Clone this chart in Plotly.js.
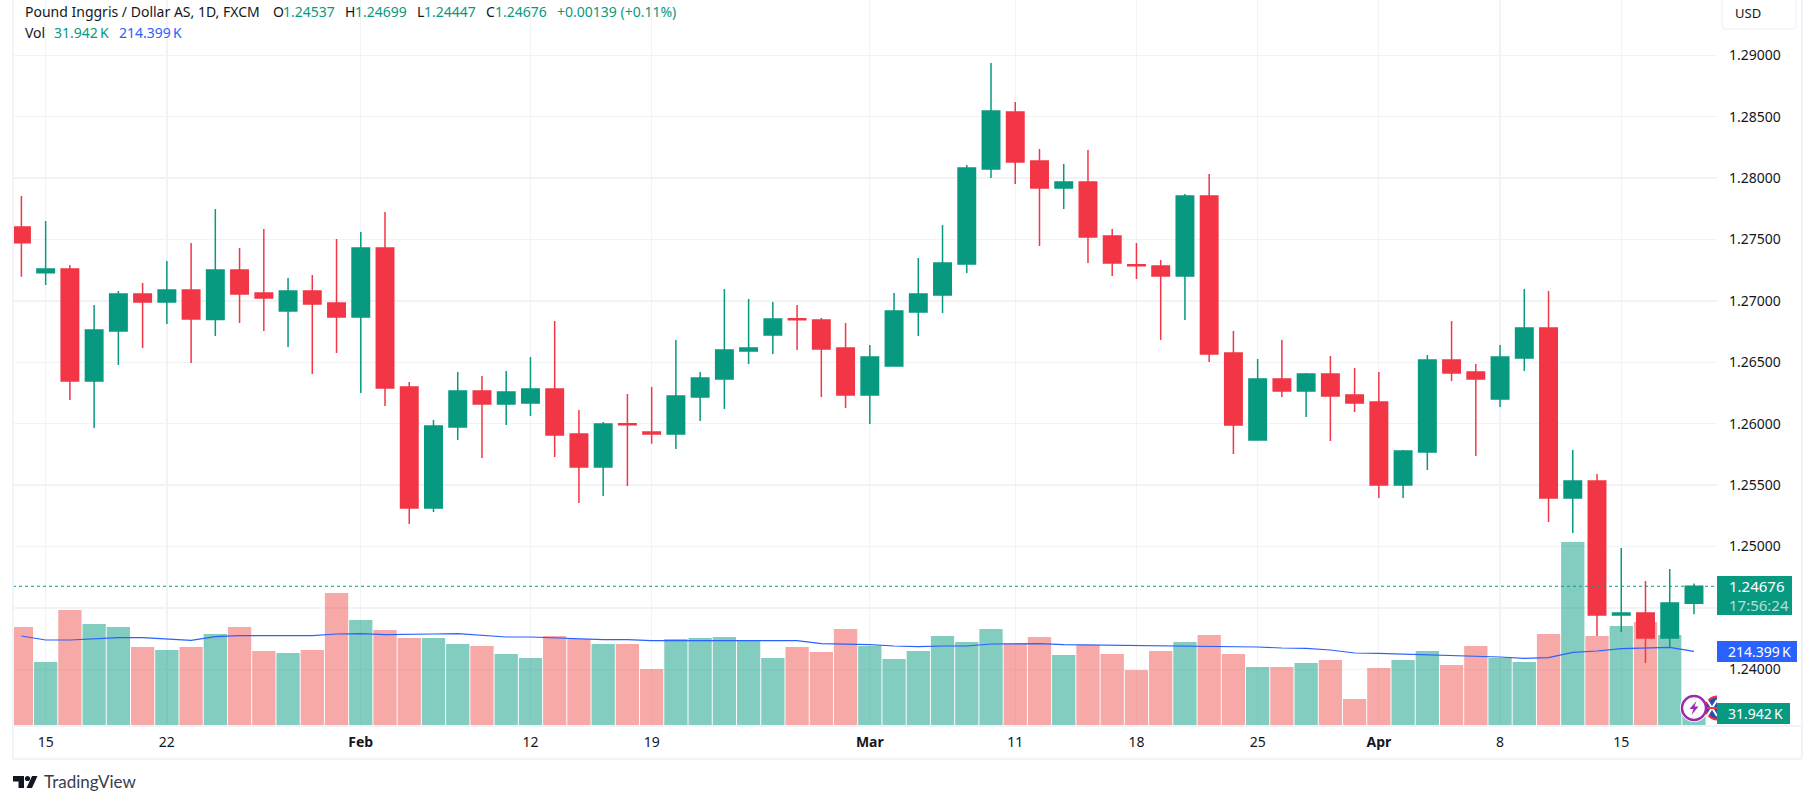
<!DOCTYPE html>
<html>
<head>
<meta charset="utf-8">
<script src="https://cdn.plot.ly/plotly-3.0.1.min.js"></script>
<style>
  html, body { margin: 0; padding: 0; background: #fff; }
</style>
</head>
<body>
<div id="chart"></div>
<script>
const dates = [
  '2024-01-12',
  '2024-01-15','2024-01-16','2024-01-17','2024-01-18','2024-01-19',
  '2024-01-22','2024-01-23','2024-01-24','2024-01-25','2024-01-26',
  '2024-01-29','2024-01-30','2024-01-31','2024-02-01','2024-02-02',
  '2024-02-05','2024-02-06','2024-02-07','2024-02-08','2024-02-09',
  '2024-02-12','2024-02-13','2024-02-14','2024-02-15','2024-02-16',
  '2024-02-19','2024-02-20','2024-02-21','2024-02-22','2024-02-23',
  '2024-02-26','2024-02-27','2024-02-28','2024-02-29','2024-03-01',
  '2024-03-04','2024-03-05','2024-03-06','2024-03-07','2024-03-08',
  '2024-03-11','2024-03-12','2024-03-13','2024-03-14','2024-03-15',
  '2024-03-18','2024-03-19','2024-03-20','2024-03-21','2024-03-22',
  '2024-03-25','2024-03-26','2024-03-27','2024-03-28','2024-03-29',
  '2024-04-01','2024-04-02','2024-04-03','2024-04-04','2024-04-05',
  '2024-04-08','2024-04-09','2024-04-10','2024-04-11','2024-04-12',
  '2024-04-15','2024-04-16','2024-04-17','2024-04-18'
];
const opens = [
  1.27602,1.27229,1.27260,1.26347,1.26755,1.27056,1.26991,1.27088,1.26848,1.27251,
  1.27064,1.26917,1.27080,1.26983,1.26869,1.27430,1.26299,1.25313,1.25973,1.26266,
  1.26160,1.26168,1.26282,1.25916,1.25647,1.25999,1.25932,1.25916,1.26217,1.26364,
  1.26592,1.26722,1.26854,1.26844,1.26616,1.26233,1.26470,1.26909,1.27048,1.27300,
  1.28074,1.28538,1.28139,1.27919,1.27968,1.27528,1.27294,1.27284,1.27202,1.27854,
  1.26575,1.25867,1.26364,1.26266,1.26404,1.26233,1.26176,1.25501,1.25769,1.26518,
  1.26421,1.26201,1.26535,1.26779,1.25395,1.25533,1.24442,1.24458,1.24255,1.24537
];
const highs = [
  1.27854,1.27650,1.27292,1.26966,1.27080,1.27145,1.27325,1.27471,1.27748,1.27430,
  1.27585,1.27186,1.27211,1.27504,1.27561,1.27724,1.26339,1.26030,1.26421,1.26388,
  1.26429,1.26543,1.26836,1.26111,1.26014,1.26242,1.26299,1.26681,1.26421,1.27097,
  1.27015,1.26991,1.26966,1.26860,1.26820,1.26641,1.27064,1.27349,1.27618,1.28106,
  1.28937,1.28619,1.28237,1.28114,1.28229,1.27585,1.27471,1.27333,1.27870,1.28033,
  1.26755,1.26527,1.26681,1.26413,1.26551,1.26453,1.26421,1.25786,1.26559,1.26836,
  1.26486,1.26641,1.27097,1.27080,1.25786,1.25590,1.24988,1.24719,1.24817,1.24699
];
const lows = [
  1.27197,1.27129,1.26193,1.25965,1.26478,1.26616,1.26812,1.26494,1.26714,1.26820,
  1.26755,1.26624,1.26404,1.26575,1.26250,1.26144,1.25183,1.25281,1.25867,1.25720,
  1.25989,1.26062,1.25729,1.25354,1.25411,1.25492,1.25837,1.25794,1.26022,1.26119,
  1.26486,1.26567,1.26600,1.26217,1.26128,1.25997,1.26470,1.26714,1.26901,1.27227,
  1.28001,1.27952,1.27447,1.27748,1.27308,1.27202,1.27178,1.26681,1.26844,1.26502,
  1.25753,1.25867,1.26217,1.26054,1.25859,1.26095,1.25395,1.25395,1.25623,1.26347,
  1.25737,1.26136,1.26429,1.25199,1.25110,1.24271,1.24303,1.24051,1.24173,1.24447
];
const closes = [
  1.27474,1.27260,1.26347,1.26763,1.27056,1.26991,1.27088,1.26852,1.27251,1.27056,
  1.27023,1.27080,1.26974,1.26869,1.27430,1.26290,1.25313,1.25981,1.26266,1.26160,
  1.26258,1.26282,1.25908,1.25647,1.25997,1.25991,1.25916,1.26225,1.26372,1.26600,
  1.26616,1.26852,1.26846,1.26608,1.26233,1.26543,1.26917,1.27056,1.27308,1.28082,
  1.28546,1.28131,1.27919,1.27968,1.27520,1.27308,1.27286,1.27202,1.27854,1.26567,
  1.25989,1.26364,1.26266,1.26404,1.26225,1.26168,1.25501,1.25777,1.26518,1.26413,
  1.26364,1.26543,1.26779,1.25395,1.25533,1.24442,1.24458,1.24255,1.24540,1.24676
];
// volume and its moving average, in thousands
const volumes = [
  284.1,183.7,332.9,292.7,284.1,226.7,218.1,226.7,264.0,284.1,
  215.3,209.5,218.1,381.7,304.2,275.5,252.6,252.6,235.3,229.6,
  206.6,195.2,258.3,249.7,235.3,235.3,163.6,249.7,252.6,255.4,
  246.8,195.2,226.7,212.4,278.4,229.6,192.3,215.3,258.3,241.1,
  278.4,238.2,255.4,203.8,232.5,206.6,160.7,215.3,241.1,261.2,
  206.6,169.3,169.3,180.8,189.4,77.5,166.5,189.4,215.3,175.1,
  229.6,195.2,183.7,264.0,528.1,258.3,287.0,298.5,261.2,31.942
];
const volumeMa = [
  258.3,246.8,246.8,250.6,253.4,253.4,250.6,246.0,256.3,259.2,
  259.2,259.2,259.2,264.0,264.9,262.0,262.0,264.0,264.9,259.2,
  255.4,255.4,252.6,249.7,247.7,247.7,244.8,244.8,244.8,244.8,
  244.8,244.8,244.8,236.2,235.3,233.3,229.6,227.6,229.6,229.6,
  235.3,236.2,236.2,233.3,232.5,232.5,231.6,229.6,229.6,229.6,
  227.6,226.7,223.9,223.0,218.1,209.5,208.6,206.6,204.6,201.8,
  200.0,198.0,194.3,196.0,211.5,215.3,221.9,224.7,225.9,214.399
];
const tickDates = ['2024-01-15','2024-01-22','2024-02-01','2024-02-12','2024-02-19','2024-03-01','2024-03-11','2024-03-18','2024-03-25','2024-04-01','2024-04-08','2024-04-15'];
const tickLabels = ['15','22','<b>Feb</b>','12','19','<b>Mar</b>','11','18','25','<b>Apr</b>','8','15'];
const priceTicks = [1.24,1.245,1.25,1.255,1.26,1.265,1.27,1.275,1.28,1.285,1.29];
// 1.24500 sits behind the last price tag, so its label stays empty
const priceLabels = ['1.24000','','1.25000','1.25500','1.26000','1.26500','1.27000','1.27500','1.28000','1.28500','1.29000'];

const UP = '#089981';
const DOWN = '#F23645';
const BLUE = '#2962FF';
const TEXT = '#131722';
const FRAME = '#F0F3FA';
const GRID = '#F2F3F5';
const FONT = '"Noto Sans", sans-serif';

const W = 1815, H = 804;
const plotL = 13, plotR = 1717, plotB = 726;
// pixel position to paper fraction, only for the page furniture around the chart
const px = x => (x - plotL) / (plotR - plotL);
const py = y => 1 - y / plotB;

const volumeColors = closes.map((c, i) =>
  c >= opens[i] ? 'rgba(8,153,129,0.5)' : 'rgba(239,83,80,0.5)');

const traces = [
  {
    type: 'bar', x: dates, y: volumes, xaxis: 'x', yaxis: 'y',
    marker: {color: volumeColors, line: {width: 0}},
    hoverinfo: 'skip'
  },
  {
    type: 'scatter', mode: 'lines', x: dates, y: volumeMa, xaxis: 'x', yaxis: 'y',
    line: {color: BLUE, width: 1.2},
    hoverinfo: 'skip'
  },
  {
    type: 'candlestick', x: dates, open: opens, high: highs, low: lows, close: closes,
    xaxis: 'x', yaxis: 'y2',
    increasing: {line: {color: UP, width: 1.5}, fillcolor: UP},
    decreasing: {line: {color: DOWN, width: 1.5}, fillcolor: DOWN},
    hoverinfo: 'skip'
  }
];

function label(text, x, y, color, size, extra) {
  return Object.assign({
    text: text, xref: 'paper', yref: 'paper', x: px(x), y: py(y),
    xanchor: 'left', yanchor: 'middle', showarrow: false,
    font: {family: FONT, size: size || 14, color: color || TEXT}
  }, extra || {});
}

function box(x0, y0, x1, y1, fill, line) {
  return {
    type: 'rect', xref: 'paper', yref: 'paper', layer: 'above',
    x0: px(x0), x1: px(x1), y0: py(y0), y1: py(y1),
    fillcolor: fill, line: line || {width: 0}
  };
}

function ring(cx, cy, r, fill, color, width) {
  return {
    type: 'circle', xref: 'paper', yref: 'paper', layer: 'above',
    x0: px(cx - r), x1: px(cx + r), y0: py(cy - r), y1: py(cy + r),
    fillcolor: fill, line: {color: color, width: width}
  };
}

function poly(points, fill) {
  const d = points.map((p, i) => (i ? 'L' : 'M') + px(p[0]) + ',' + py(p[1])).join(' ') + ' Z';
  return {type: 'path', xref: 'paper', yref: 'paper', layer: 'above', path: d, fillcolor: fill, line: {width: 0}};
}

function segment(x0, y0, x1, y1, color, width) {
  return {
    type: 'line', xref: 'paper', yref: 'paper', layer: 'above',
    x0: px(x0), x1: px(x1), y0: py(y0), y1: py(y1),
    line: {color: color, width: width}
  };
}

const shapes = [
  // last price line
  {type: 'line', xref: 'paper', yref: 'y2', layer: 'above', x0: 0, x1: 1,
   y0: closes[closes.length - 1], y1: closes[closes.length - 1],
   line: {color: UP, width: 1, dash: 'dot'}},
  // flag and lightning badges on the last bar
  ring(1694, 708, 14, '#ffffff', '#ffffff', 0),
  ring(1717, 708, 11.5, '#2A4FA8', '#F23645', 2),
  segment(1707, 700, 1717, 716, '#ffffff', 2),
  segment(1707, 716, 1717, 700, '#ffffff', 2),
  segment(1706, 708, 1717, 708, '#F23645', 2),
  box(1717, 694, 1801, 725, '#ffffff'),
  ring(1694, 708, 12, '#ffffff', '#9C27B0', 2.5),
  poly([[1696.5, 701], [1689.5, 709], [1693.5, 709], [1691.5, 715], [1698.5, 706.5], [1694.5, 706.5]], '#9C27B0'),
  // chart frame
  segment(13, 0, 13, 759, FRAME, 2),
  segment(1802, 0, 1802, 759, FRAME, 2),
  segment(13, 759, 1802, 759, FRAME, 2),
  segment(13, 726, 1802, 726, FRAME, 2),
  // price axis tags
  box(1717, 576, 1792, 615, UP),
  box(1717, 641, 1797, 662, BLUE),
  box(1717, 703, 1790, 724, UP),
  // currency button
  {type: 'path', xref: 'paper', yref: 'paper', layer: 'above',
   path: 'M' + px(1722) + ',' + py(0) + ' L' + px(1722) + ',' + py(25) +
         ' Q' + px(1722) + ',' + py(29) + ' ' + px(1726) + ',' + py(29) +
         ' L' + px(1792) + ',' + py(29) +
         ' Q' + px(1796) + ',' + py(29) + ' ' + px(1796) + ',' + py(25) +
         ' L' + px(1796) + ',' + py(0),
   fillcolor: 'rgba(0,0,0,0)', line: {color: FRAME, width: 1.5}},
  // TradingView logo
  poly([[13, 776], [24, 776], [24, 788], [18.5, 788], [18.5, 781.5], [13, 781.5]], TEXT),
  ring(27.5, 778.5, 2.6, TEXT, TEXT, 0),
  poly([[32, 776], [37.5, 776], [32, 788], [26.5, 788]], TEXT)
];

const annotations = [
  label('Pound Inggris / Dollar AS, 1D, FXCM', 23, 12),
  label('O', 271, 12),
  label('1.24537', 281, 12, UP),
  label('H', 343, 12),
  label('1.24699', 353, 12, UP),
  label('L', 415, 12),
  label('1.24447', 422, 12, UP),
  label('C', 484, 12),
  label('1.24676', 493, 12, UP),
  label('+0.00139 (+0.11%)', 555, 12, UP),
  label('Vol', 23, 33),
  label('31.942\u2009K', 52, 33, UP),
  label('214.399\u2009K', 117, 33, BLUE),
  label('USD', 1733, 13, TEXT, 13),
  label('1.24676', 1727, 586, '#ffffff', 15),
  label('17:56:24', 1727, 605, 'rgba(255,255,255,0.7)', 15),
  label('214.399\u2009K', 1726, 651.5, '#ffffff', 14),
  label('31.942\u2009K', 1726, 713.5, '#ffffff', 14),
  label('TradingView', 42, 782, '#3a3e4a', 15, {font: {family: '"Lato", sans-serif', size: 17, color: '#3a3e4a'}})
];

const layout = {
  width: W,
  height: H,
  margin: {l: plotL, r: W - plotR, t: 0, b: H - plotB, pad: 0},
  paper_bgcolor: '#ffffff',
  plot_bgcolor: '#ffffff',
  showlegend: false,
  hovermode: false,
  bargap: 0.04,
  boxgap: 0.28,
  boxgroupgap: 0,
  xaxis: {
    type: 'category',
    range: [-0.347, 69.95],
    tickmode: 'array',
    tickvals: tickDates,
    ticktext: tickLabels,
    showgrid: true,
    gridcolor: GRID,
    gridwidth: 1.3,
    zeroline: false,
    showline: false,
    ticks: '',
    ticklabelstandoff: 6,
    rangeslider: {visible: false},
    tickfont: {family: FONT, size: 14, color: TEXT}
  },
  // volume pane keeps its scale hidden
  yaxis: {
    range: [0, 2083.6],
    showgrid: false,
    zeroline: false,
    showticklabels: false,
    ticks: ''
  },
  yaxis2: {
    overlaying: 'y',
    side: 'right',
    range: [1.23538, 1.2945],
    tickmode: 'array',
    tickvals: priceTicks,
    ticktext: priceLabels,
    showgrid: true,
    gridcolor: GRID,
    gridwidth: 1.3,
    zeroline: false,
    showline: false,
    ticks: '',
    ticklabelstandoff: 11,
    tickfont: {family: FONT, size: 14, color: TEXT}
  },
  shapes: shapes,
  annotations: annotations
};

Plotly.newPlot('chart', traces, layout, {displayModeBar: false, staticPlot: true});
</script>
</body>
</html>
